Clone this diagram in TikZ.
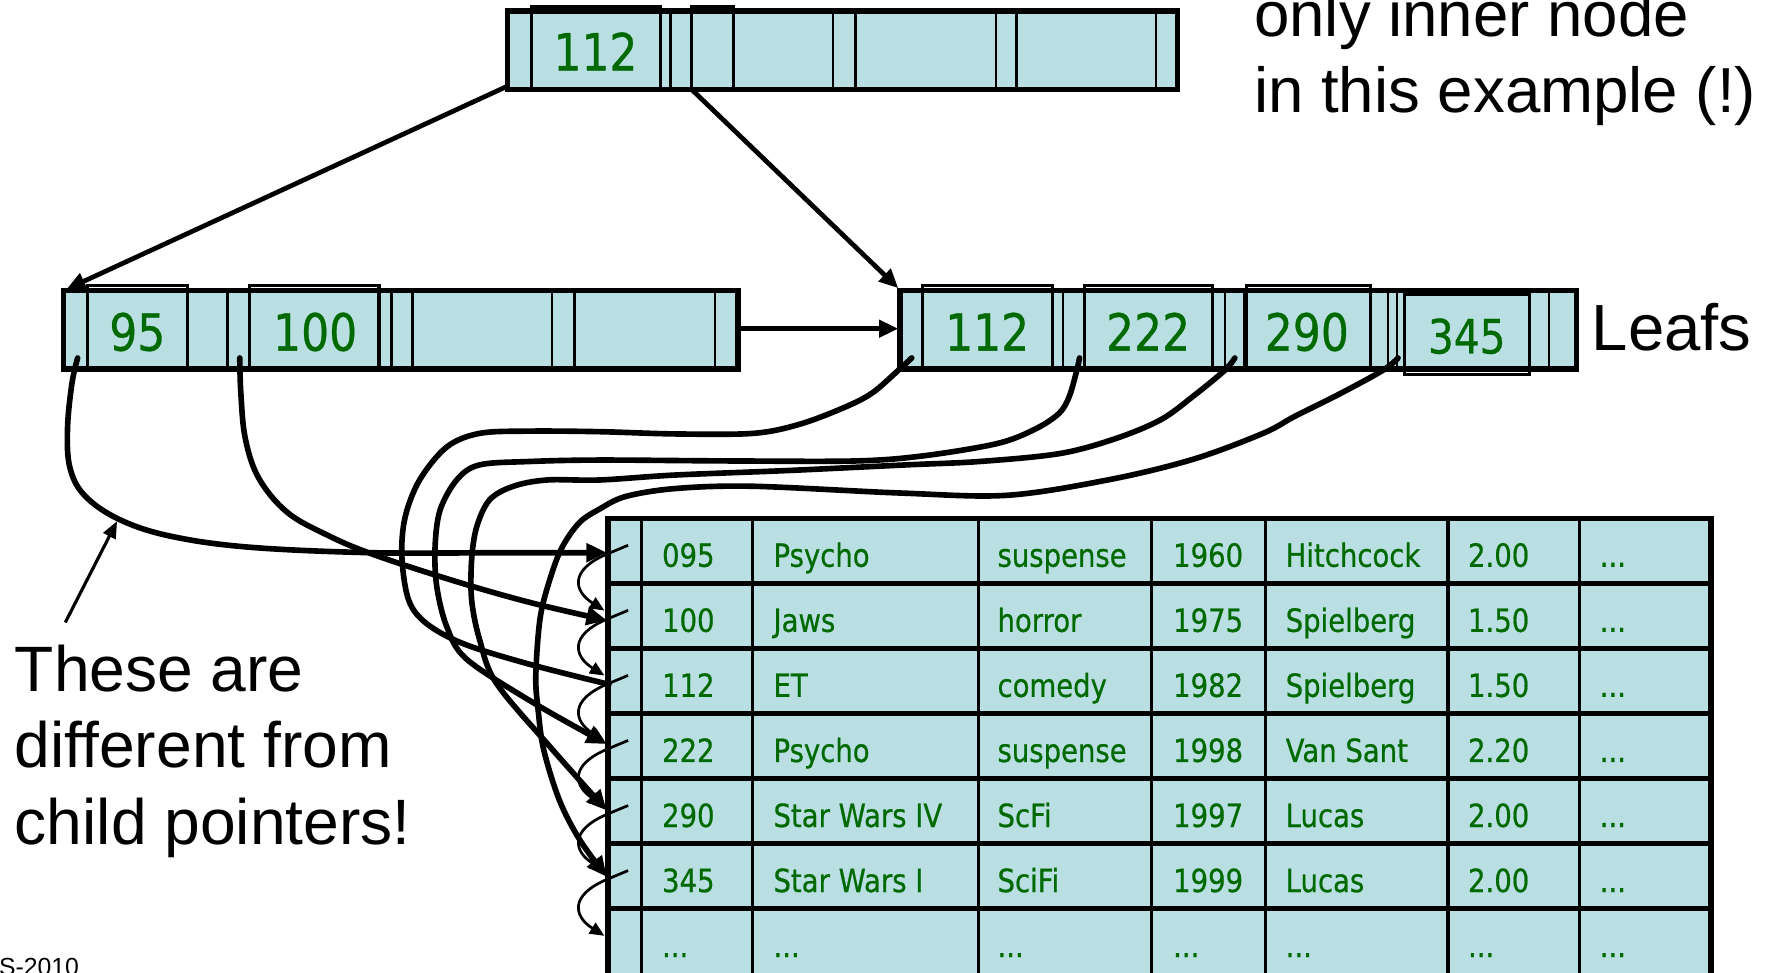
\documentclass[tikz,border=0pt]{standalone}
\usepackage{fontspec}
\usetikzlibrary{arrows.meta}
\newfontfamily\cellfont[FakeStretch=0.86,FakeBold=0.6]{DejaVu Sans}
\newfontfamily\labelfont{Liberation Sans}
\definecolor{cellblue}{RGB}{186,223,227}
\definecolor{keygreen}{RGB}{0,105,0}
\newcommand\celldots{...}

\begin{document}
\begin{tikzpicture}[x=1pt,y=-1pt,
  outer/.style={draw=black, line width=5pt},
  keybox/.style={draw=black, line width=2.7pt},
  divider/.style={draw=black, line width=2pt},
  rowline/.style={draw=black, line width=4.6pt},
  colline/.style={draw=black, line width=3pt},
  keytext/.style={text=keygreen, font=\cellfont\fontsize{45.5}{50}\selectfont, inner sep=0pt, anchor=base},
  celltext/.style={text=keygreen, font=\cellfont\fontsize{28.4}{32}\selectfont, inner sep=0pt, anchor=base west},
  label/.style={text=black, font=\labelfont\fontsize{57}{68}\selectfont, inner sep=0pt, anchor=base west},
  link/.style={line width=5pt, line cap=round, line join=round},
  ptr/.style={link, -{Triangle[length=18pt,width=16pt]}},
  childptr/.style={line width=4.2pt, -{Triangle[length=17pt,width=15pt]}},
  recptr/.style={line width=2.4pt, -{Triangle[length=13pt,width=11pt]}},
  note/.style={line width=2.8pt, -{Triangle[length=15pt,width=12pt]}},
]
\useasboundingbox (0,0) rectangle (1568,864);

% ---------- root (inner) node ----------
\fill[cellblue] (451,9.5) rectangle (1046,79.5);
\foreach \x in {595.6,740,760,885,903,1027} \draw[divider] (\x,9.5) -- (\x,79.5);
\draw[keybox] (472,5.5) rectangle (586.5,79.5);
\draw[keybox] (614,5.5) rectangle (652,79.5);
\draw[outer] (451,9.5) rectangle (1046,79.5);
\node[keytext] (root-k1) at (529,62.5) {112};
\coordinate (root-p0) at (452,76);
\coordinate (root-p1) at (615,80);

% ---------- leaf 1 ----------
\fill[cellblue] (56.5,258) rectangle (655.5,328);
\foreach \x in {202.2,347.8,366.4,490.5,510.4,635.3} \draw[divider] (\x,258) -- (\x,328);
\draw[keybox] (78,254) rectangle (166.5,328);
\draw[keybox] (221.7,254) rectangle (336.7,328);
\draw[outer] (56.5,258) rectangle (655.5,328);
\node[keytext] (l1-k1) at (122,311.5) {95};
\node[keytext] (l1-k2) at (280,311.5) {100};
\coordinate (l1-in) at (59,257);
\coordinate (l1-next) at (657,292);
\coordinate (l1-p1) at (69,318);
\coordinate (l1-p2) at (213,318);

% ---------- leaf 2 ----------
\fill[cellblue] (799.5,258) rectangle (1400.5,328);
\foreach \x in {944.6,1088.5,1105,1233,1241,1375.8} \draw[divider] (\x,258) -- (\x,328);
\draw[keybox] (819.3,254) rectangle (934.6,328);
\draw[keybox] (963.2,254) rectangle (1077.5,328);
\draw[keybox] (1107.6,254) rectangle (1217.9,328);
\draw[outer] (799.5,258) rectangle (1400.5,328);
\draw[keybox] (1248,262) rectangle (1359,333);
\node[keytext] (l2-k1) at (877,311.5) {112};
\node[keytext] (l2-k2) at (1020,311.5) {222};
\node[keytext] (l2-k3) at (1161,311.5) {290};
\node[keytext, font=\cellfont\fontsize{42}{46}\selectfont] (l2-k4) at (1303,314) {345};
\coordinate (l2-in) at (798,256);
\coordinate (l2-prev) at (798,292);
\coordinate (l2-p1) at (810,318);
\coordinate (l2-p2) at (959,318);
\coordinate (l2-p3) at (1097,318);
\coordinate (l2-p4) at (1242,318);

% ---------- data table ----------
\fill[cellblue] (540,460.5) rectangle (1520,880);
\foreach \x in {570,668.3,869,1023,1124.4,1286.4,1403} \draw[colline] (\x,460.5) -- (\x,880);
\foreach \i in {1,2,3,4,5,6} \draw[rowline] (540,460.5+57.8*\i) -- (1520,460.5+57.8*\i);
\draw[outer] (540,880) -- (540,460.5) -- (1520,460.5) -- (1520,880);

\foreach \r/\a/\b/\c/\d/\e/\f/\g in {
  1/095/Psycho/suspense/1960/Hitchcock/2.00/\celldots,
  2/100/Jaws/horror/1975/Spielberg/1.50/\celldots,
  3/112/ET/comedy/1982/Spielberg/1.50/\celldots,
  4/222/Psycho/suspense/1998/Van Sant/2.20/\celldots,
  5/290/Star Wars IV/ScFi/1997/Lucas/2.00/\celldots,
  6/345/Star Wars I/SciFi/1999/Lucas/2.00/\celldots,
  7/\celldots/\celldots/\celldots/\celldots/\celldots/\celldots/\celldots}{
  \pgfmathsetmacro\by{460.5+57.8*(\r-1)+43}
  \node[celltext] (c-\r-1) at (588,\by) {\a};
  \node[celltext] (c-\r-2) at (687,\by) {\b};
  \node[celltext] (c-\r-3) at (886,\by) {\c};
  \node[celltext] (c-\r-4) at (1042,\by) {\d};
  \node[celltext] (c-\r-5) at (1142,\by) {\e};
  \node[celltext] (c-\r-6) at (1304,\by) {\f};
  \node[celltext] (c-\r-7) at (1421,\by) {\g};
}

% entry points of the records
\coordinate (rec1) at (539,491);
\coordinate (rec2) at (539,551);
\coordinate (rec3) at (541,608);
\coordinate (rec4) at (539,661);
\coordinate (rec5) at (539,720);
\coordinate (rec6) at (539,779);

% record-to-record pointers
\foreach \i in {1,2,3,4,5,6} {
  \pgfmathsetmacro\cy{460.5+57.8*(\i-1)+28.9}
  \coordinate (rp\i) at (558,\cy-5);
  \coordinate (rn\i) at (537,\cy+53);
  \draw[recptr] (rp\i) -- ++(-18,7.5) .. controls +(-35,14.5) and (510,\cy+36) .. (rn\i);
}

% ---------- child pointers ----------
\draw[childptr] (root-p0) -- (l1-in);
\draw[childptr] (root-p1) -- (l2-in);
\draw[childptr] (l1-next) -- (l2-prev);

% ---------- record pointers from the leaves ----------
\draw[ptr] plot[smooth, tension=0.6] coordinates {(l1-p1) (64,340) (60,380) (62,415) (75,440) (105,461) (150,476) (220,486) (330,491) (450,491) (rec1)};
\draw[ptr] plot[smooth, tension=0.6] coordinates {(l1-p2) (214,350) (218,390) (230,425) (255,455) (290,475) (330,492) (400,515) (470,535) (rec2)};
\draw[link] plot[smooth, tension=0.55] coordinates {(l2-p1) (798,329) (775,349) (750,362) (710,377) (669,385) (600,385.5) (533,383.5) (470,383) (426,385) (397,397) (373,426) (360,459) (357,494) (363,533) (379,554) (412,572) (470,590) (rec3)};
\draw[ptr] plot[smooth, tension=0.55] coordinates {(l2-p2) (956.6,329) (950,352) (941,367) (920,381) (886,394) (820,405) (760,409.5) (650,409.5) (533,408.7) (470,410) (426,413) (406,426) (391,453) (386.5,486) (388,521) (397,557) (415,586) (475,625) (rec4)};
\draw[ptr] plot[smooth, tension=0.55] coordinates {(l2-p3) (1088,329) (1060,352) (1031,373) (990,390) (941,403) (870,410) (805,413) (700,418) (600,422) (533,426.4) (486,426.4) (456,432) (435,444) (423.5,468) (419,497) (419,533) (426,568) (441,607) (490,665) (rec5)};
\draw[ptr] plot[smooth, tension=0.55] coordinates {(l2-p4) (1228.5,329) (1190,350) (1150,370) (1122,385) (1060,408) (986,426) (895,440) (800,438) (669,432) (600,434) (556,441) (533,452) (515,464) (500,485) (490,510) (480,548) (476,600) (478,630) (483,666) (497,711) (515,746) (rec6)};

% ---------- labels ----------
\node[label, font=\labelfont\fontsize{56.5}{68}\selectfont] (inner1) at (1114,32) {only inner node};
\node[label, font=\labelfont\fontsize{56.5}{68}\selectfont] (inner2) at (1114,100) {in this example (!)};
\node[label, font=\labelfont\fontsize{58}{68}\selectfont] (leafs) at (1414,311) {Leafs};
\node[label] (diff1) at (13,614) {These are};
\node[label] (diff2) at (13,682) {different from};
\node[label] (diff3) at (13,750) {child pointers!};
\coordinate (noteS) at (58,553);
\coordinate (noteT) at (104,463);
\draw[note] (noteS) -- (noteT);
\node[label, font=\labelfont\fontsize{22}{26}\selectfont] (foot) at (-1,867) {S-2010};
\end{tikzpicture}
\end{document}
